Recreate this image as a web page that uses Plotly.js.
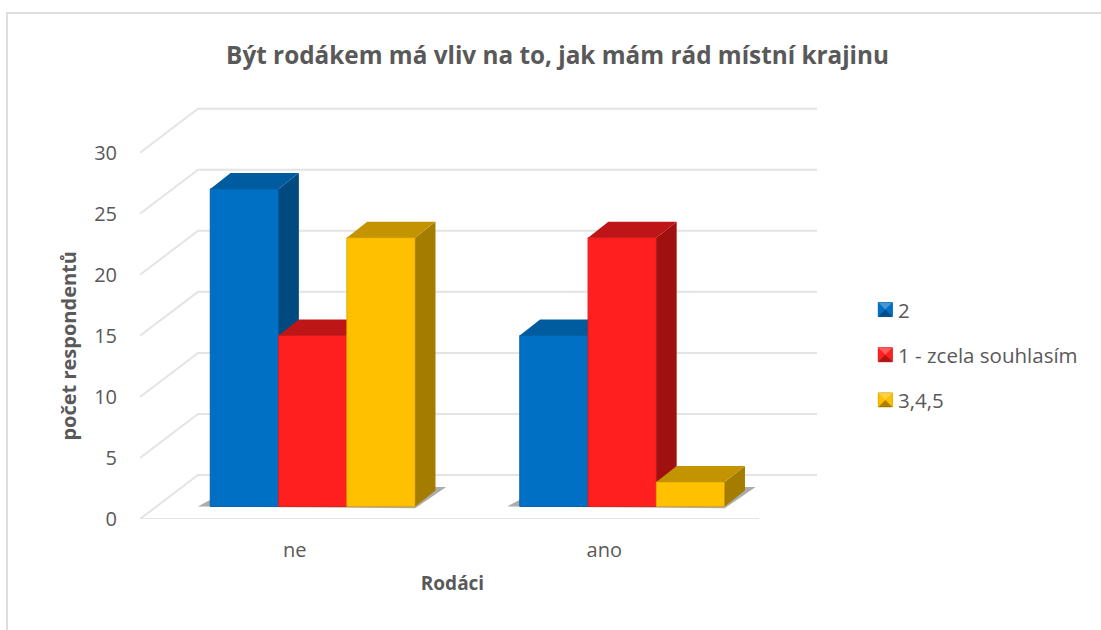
<!DOCTYPE html>
<html><head><meta charset="utf-8">
<script src="https://cdn.plot.ly/plotly-3.0.1.min.js"></script>
<style>
html,body{margin:0;padding:0;background:#fff;overflow:hidden;width:1101px;height:630px}
#frame{position:absolute;left:6px;top:12px;width:1200px;height:700px;border:2px solid #dedede}
#chart{position:absolute;left:0;top:0;width:1101px;height:630px}
</style></head><body>
<div id="frame"></div><div id="chart"></div>
<script>
// ---- data ----
const categories = ['ne', 'ano'];
const seriesNames = ['2', '1 - zcela souhlasím', '3,4,5'];
const series2 = [26, 14];
const series1 = [14, 22];
const series345 = [22, 2];
const yTicks = [0, 5, 10, 15, 20, 25, 30];
const chartTitle = 'Být rodákem má vliv na to, jak mám rád místní krajinu';
const xTitle = 'Rodáci';
const yTitle = 'počet respondentů';
// ---- style ----
const frontColors = ['#0070C4', '#FF1F1F', '#FFC000'];
const topColors = ['#005C9F', '#BE1616', '#C49400'];
const sideColors = ['#004A80', '#A01010', '#A37C00'];
const edgeColors = ['#0062AC', '#E01C1C', '#E0A900'];
const gridColor = '#e4e4e4', textColor = '#595959';
const font = '"Open Sans", "Noto Sans", sans-serif';
// ---- oblique projection, in axis units ----
const wallDx = 0.1874, wallDy = 3.6;    // front plane -> back wall
const barBase = 1.03;                   // bars stand part-way into the floor
const barDx = 0.0656, barDy = 1.31;     // depth of a bar
const barWidth = 0.2207, groupStart = -0.273;
const xIdx = categories.map((_, i) => i);
const allSeries = [series2, series1, series345];
const xLeft = -0.5, xRight = categories.length - 0.5;
const xFull = [xLeft, 1.6874], yFull = [0, 34.31];   // whole drawing box incl. back wall

// front floor edge, on the visible axes
const traces = [{type:'scatter', mode:'lines', x:[xLeft, xRight], y:[0, 0], line:{color:gridColor, width:2},
  hoverinfo:'skip', showlegend:false, xaxis:'x', yaxis:'y'}];

// walls and floor grid
const gx = [], gy = [];
yTicks.forEach(v => {
  gx.push(xLeft, xLeft + wallDx, xRight + wallDx, null);
  gy.push(v, v + wallDy, v + wallDy, null);
});
traces.push({type:'scatter', mode:'lines', x:gx, y:gy, line:{color:gridColor, width:2},
  hoverinfo:'skip', showlegend:false, xaxis:'x2', yaxis:'y2'});

// floor shadow of each group
const sx = [], sy = [];
xIdx.forEach(i => {
  const l = i + groupStart, r = l + 3 * barWidth;
  sx.push(l - 0.04, l, r + 0.062, r + 0.1, r, l - 0.04, null);
  sy.push(barBase, barBase + 0.55, barBase + 1.6, barBase + 1.6, barBase - 0.15, barBase, null);
});
traces.push({type:'scatter', mode:'lines', x:sx, y:sy, fill:'toself', fillcolor:'rgba(90,90,90,0.5)',
  line:{width:0}, hoverinfo:'skip', showlegend:false, xaxis:'x2', yaxis:'y2'});

allSeries.forEach((vals, s) => {
  const ax = 'x' + (s + 3), ay = 'y' + (s + 3);
  const off = groupStart + s * barWidth;
  traces.push({type:'bar', name:seriesNames[s], x:xIdx, y:vals, base:barBase, offset:off, width:barWidth,
    marker:{color:frontColors[s], line:{color:edgeColors[s], width:1}}, legendgroup:'g' + s,
    xaxis:ax, yaxis:ay, hoverinfo:'y'});
  const tx = [], ty = [], sdx = [], sdy = [];
  vals.forEach((v, i) => {
    const l = i + off, r = l + barWidth, t = barBase + v;
    tx.push(l, l + barDx, r + barDx, r, l, null);
    ty.push(t, t + barDy, t + barDy, t, t, null);
    sdx.push(r, r + barDx, r + barDx, r, r, null);
    sdy.push(barBase, barBase + barDy, t + barDy, t, barBase, null);
  });
  traces.push({type:'scatter', mode:'lines', x:sdx, y:sdy, fill:'toself', fillcolor:sideColors[s],
    line:{width:0}, hoverinfo:'skip', showlegend:false, xaxis:ax, yaxis:ay});
  traces.push({type:'scatter', mode:'lines', x:tx, y:ty, fill:'toself', fillcolor:topColors[s],
    line:{width:0}, hoverinfo:'skip', showlegend:false, xaxis:ax, yaxis:ay});
});

const hiddenX = (over, anc) => Object.assign({range:xFull, domain:[0,1], visible:false, fixedrange:true, anchor:anc}, over ? {overlaying:over} : {});
const hiddenY = (over, anc) => Object.assign({range:yFull, domain:[0,1], visible:false, fixedrange:true, anchor:anc}, over ? {overlaying:over} : {});
const tickFont = {family:font, size:20, color:textColor};
const layout = {
  width:1101, height:630, autosize:false,
  margin:{l:140, r:284, t:100, b:110.7, pad:0},
  paper_bgcolor:'rgba(0,0,0,0)', plot_bgcolor:'rgba(0,0,0,0)',
  barmode:'overlay', showlegend:true,
  title:{text:'<b>' + chartTitle + '</b>', x:0.5064, xref:'container', xanchor:'center',
    y:0.9127, yref:'container', yanchor:'middle', font:{family:font, size:24.3, color:textColor}},
  xaxis:{range:[xLeft, xRight], domain:[0, 0.9143], anchor:'y', tickmode:'array', tickvals:xIdx, ticktext:categories,
    showgrid:false, zeroline:false, showline:false, ticks:'outside', ticklen:13, tickcolor:'rgba(0,0,0,0)',
    tickfont:tickFont, fixedrange:true,
    title:{text:'<b>' + xTitle + '</b>', standoff:14, font:{family:font, size:19, color:textColor}}},
  yaxis:{range:[0, 30], domain:[0, 0.8743], anchor:'x', tickmode:'array', tickvals:yTicks, ticktext:yTicks.map(String),
    showgrid:false, zeroline:false, showline:false, ticks:'outside', ticklen:18, tickcolor:'rgba(0,0,0,0)',
    tickfont:tickFont, fixedrange:true,
    title:{text:'<b>' + yTitle + '</b>', standoff:12, font:{family:font, size:20, color:textColor}}},
  xaxis2:hiddenX(null, 'y2'), yaxis2:hiddenY(null, 'x2'),
  xaxis3:hiddenX('x2', 'y3'), yaxis3:hiddenY('y2', 'x3'),
  xaxis4:hiddenX('x2', 'y4'), yaxis4:hiddenY('y2', 'x4'),
  xaxis5:hiddenX('x2', 'y5'), yaxis5:hiddenY('y2', 'x5'),
  legend:{x:1.0606, xref:'paper', xanchor:'left', y:0.392, yref:'paper', yanchor:'middle',
    font:{family:font, size:20.5, color:textColor}, tracegroupgap:15.5, bgcolor:'rgba(0,0,0,0)'}
};
Plotly.newPlot('chart', traces, layout, {displayModeBar:false, staticPlot:true}).then(() => {
  const yt = document.querySelector('.g-ytitle');
  if (yt) yt.setAttribute('transform', 'translate(0,10)');
  const xt = document.querySelector('.g-xtitle');
  if (xt) xt.setAttribute('transform', 'translate(3,0)');
  // legend keys: small bevelled squares
  const NS = 'http://www.w3.org/2000/svg';
  document.querySelectorAll('.legend .legendpoints path').forEach(p => {
    p.setAttribute('d', 'M-7,-7H7V7H-7Z');
    p.setAttribute('transform', 'translate(27.3,0)');
    [['M-7,-7H7L0,0Z', 'rgba(255,255,255,0.28)'], ['M-7,7H7L0,0Z', 'rgba(0,0,0,0.32)']].forEach(([d, c]) => {
      const q = document.createElementNS(NS, 'path');
      q.setAttribute('d', d); q.setAttribute('fill', c);
      q.setAttribute('transform', 'translate(27.3,0)');
      p.parentNode.appendChild(q);
    });
  });
});
</script>
</body></html>
